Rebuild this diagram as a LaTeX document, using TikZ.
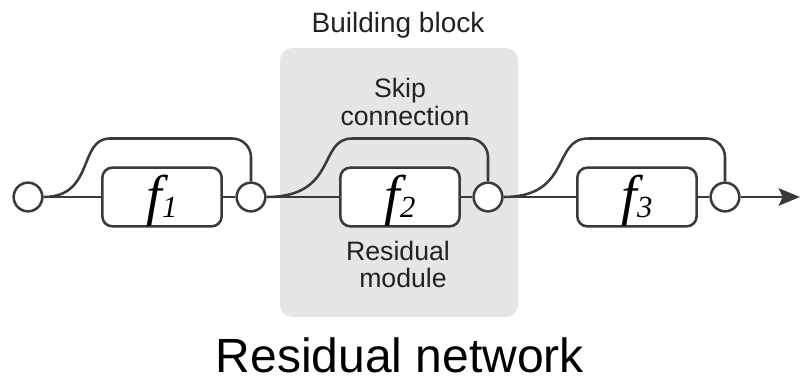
\documentclass[tikz,border=0pt]{standalone}
\usepackage{fontspec}
\setmainfont{Liberation Sans}
\newfontfamily\fnfont{Liberation Serif}
\usetikzlibrary{arrows.meta}
\definecolor{ink}{RGB}{58,58,58}
\definecolor{blockfill}{RGB}{230,230,230}
\definecolor{labelink}{RGB}{34,34,34}

% italic function name with a lowered index
\newcommand{\fnname}[1]{{\fnfont\itshape\fontsize{42pt}{42pt}\selectfont f\raisebox{-2.3pt}{\fontsize{23pt}{23pt}\selectfont #1}}}

\begin{document}
\begin{tikzpicture}[x=0.75pt,y=-0.75pt,
  wire/.style={draw=ink,line width=1.9pt},
  modbox/.style={draw=ink,line width=1.9pt,fill=white,rounded corners=7.5pt,
    minimum width=89.5pt,minimum height=44pt,inner sep=0pt,
    text height=26pt,text depth=0pt},
  junction/.style={circle,draw=ink,line width=1.9pt,fill=white,
    minimum size=21.5pt,inner sep=0pt},
  blockbox/.style={fill=blockfill,rounded corners=9pt,
    minimum width=178.5pt,minimum height=201.75pt,inner sep=0pt},
  lbl/.style={text=labelink,font=\fontsize{20pt}{24pt}\selectfont,
    inner sep=0pt,anchor=base},
]
\useasboundingbox (0,0) rectangle (801,379);

% shaded building block
\node[blockbox] (block) at (399,182.5) {};
\node[lbl,font=\fontsize{21pt}{24pt}\selectfont] (title) at (398,32) {Building block};

% junctions and residual modules
\node[junction] (c0) at (28,197) {};
\node[modbox] (f1) at (162,197) {\fnname{1}};
\node[junction] (c1) at (251,197) {};
\node[modbox] (f2) at (400,197) {\fnname{2}};
\node[junction] (c2) at (488,197) {};
\node[modbox] (f3) at (637,197) {\fnname{3}};
\node[junction] (c3) at (725,197) {};
\coordinate (out) at (800,197);

% main signal path
\draw[wire] (c0) -- (f1);
\draw[wire] (f1) -- (c1);
\draw[wire] (c1) -- (f2);
\draw[wire] (f2) -- (c2);
\draw[wire] (c2) -- (f3);
\draw[wire] (f3) -- (c3);
\draw[wire,-{Stealth[length=16pt,width=13pt,inset=3pt]}] (c3) -- (out);

% skip connections
\coordinate (t1) at (110,138.5);
\coordinate (t2) at (352,138.5);
\coordinate (t3) at (588,138.5);
\draw[wire] (c0.east) .. controls (95,197) and (78,138.5) .. (t1)
  [rounded corners=14pt] -| (c1.north);
\draw[wire] (c1.east) .. controls (338,197) and (318,138.5) .. (t2)
  [rounded corners=14pt] -| (c2.north);
\draw[wire] (c2.east) .. controls (572,197) and (552,138.5) .. (t3)
  [rounded corners=14pt] -| (c3.north);

% labels
\node[lbl] (skipa) at (400,97) {Skip};
\node[lbl] (skipb) at (405,125) {connection};
\node[lbl] (resa) at (398,260) {Residual};
\node[lbl] (resb) at (403,287) {module};
\node[lbl,font=\fontsize{36pt}{40pt}\selectfont,text=black,text depth=0pt] (net) at (400,372) {Residual network};
\end{tikzpicture}
\end{document}
